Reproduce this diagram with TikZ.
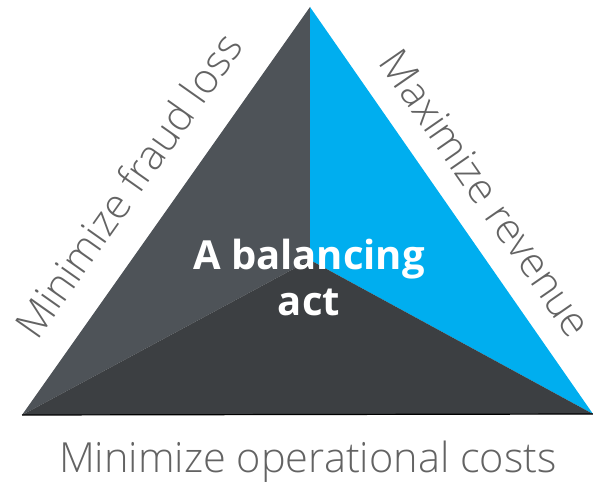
\documentclass[tikz,border=0pt]{standalone}
\usepackage{fontspec}
\setmainfont{Open Sans}
\newfontfamily\lightsans{Open Sans Light}
\definecolor{facetgray}{HTML}{4E5358}
\definecolor{facetblue}{HTML}{00AEEF}
\definecolor{facetdark}{HTML}{3C3F42}
\definecolor{labelgray}{HTML}{636363}
\definecolor{baseline}{HTML}{808080}
\tikzset{
  sidelabel/.style={text=labelgray, font=\lightsans\fontsize{41.5}{46}\selectfont, inner sep=0pt},
  centerlabel/.style={text=white, font=\fontsize{40}{46}\selectfont\bfseries, align=center, inner sep=0pt}
}
\begin{document}
\begin{tikzpicture}[x=1pt,y=1pt]
  \useasboundingbox (0,0) rectangle (593,485);
  % corners of the triangle and the point where the three facets meet
  \coordinate (apex) at (310,478);
  \coordinate (left) at (22,70);
  \coordinate (right) at (593,71);
  \coordinate (mid) at (310,225);
  % facets
  \fill[facetgray] (left) -- (apex) -- (mid) -- cycle;
  \fill[facetblue] (apex) -- (right) -- (mid) -- cycle;
  \fill[facetdark] (left) -- (mid) -- (right) -- cycle;
  \draw[baseline, line width=1.2pt] (left) -- (right);
  % labels
  \node[sidelabel, rotate=54.8] (fraud) at (128,300) {Minimize fraud loss};
  \node[sidelabel, rotate=-55.3] (revenue) at (486,292) {Maximize revenue};
  \node[sidelabel, anchor=base] (costs) at (308,13) {Minimize operational costs};
  \node[centerlabel] (act) at (309,208) {A balancing\\act};
\end{tikzpicture}
\end{document}
